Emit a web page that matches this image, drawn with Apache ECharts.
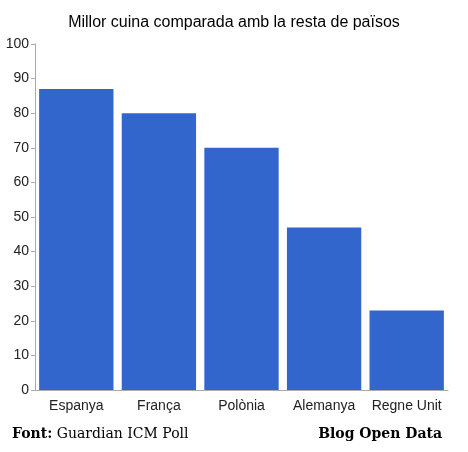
<!DOCTYPE html>
<html>
<head>
<meta charset="utf-8">
<script src="https://cdn.jsdelivr.net/npm/echarts@6/dist/echarts.min.js"></script>
<style>
  html, body { margin: 0; padding: 0; background: #fff; }
  #chart { width: 468px; height: 452px; }
</style>
</head>
<body>
<div id="chart"></div>
<script>
// millor cuina - dades
var countries = ['Espanya', 'França', 'Polònia', 'Alemanya', 'Regne Unit'];
var votes = [87, 80, 70, 47, 23];
var yTicks = [0, 100, 10]; // min, max, interval

var chart = echarts.init(document.getElementById('chart'));
chart.setOption({
  animation: false,
  title: {
    text: 'Millor cuina comparada amb la resta de països',
    left: 'center',
    top: 10,
    textStyle: {
      color: '#000',
      fontWeight: 'normal',
      fontSize: 16,
      fontFamily: 'Liberation Sans'
    }
  },
  grid: {
    left: 35,
    right: 20,
    top: 44,
    bottom: 62,
    containLabel: false
  },
  xAxis: {
    type: 'category',
    data: countries,
    axisTick: { show: false },
    axisLine: { lineStyle: { color: '#aaa' } },
    axisLabel: {
      interval: 0,
      color: '#222',
      fontSize: 14,
      fontFamily: 'Liberation Sans',
      margin: 9
    }
  },
  yAxis: {
    type: 'value',
    min: yTicks[0],
    max: yTicks[1],
    interval: yTicks[2],
    splitLine: { show: false },
    axisLine: { show: true, lineStyle: { color: '#aaa' } },
    axisTick: { show: true, length: 4, lineStyle: { color: '#aaa' } },
    axisLabel: {
      color: '#222',
      fontSize: 14,
      fontFamily: 'Liberation Sans',
      margin: 6
    }
  },
  series: [{
    type: 'bar',
    data: votes,
    barCategoryGap: '10%',
    itemStyle: { color: '#3366cc' }
  }],
  graphic: [
    {
      type: 'text',
      left: 12,
      top: 427,
      style: {
        text: '{b|Font:} Guardian ICM Poll',
        rich: {
          b: { fontWeight: 'bold', fontFamily: 'DejaVu Serif', fontSize: 14, fill: '#000' }
        },
        font: '14px "DejaVu Serif"',
        fill: '#000'
      }
    },
    {
      type: 'text',
      right: 26,
      top: 427,
      style: {
        text: 'Blog Open Data',
        font: 'bold 14px "DejaVu Serif"',
        fill: '#000'
      }
    }
  ]
});
</script>
</body>
</html>
